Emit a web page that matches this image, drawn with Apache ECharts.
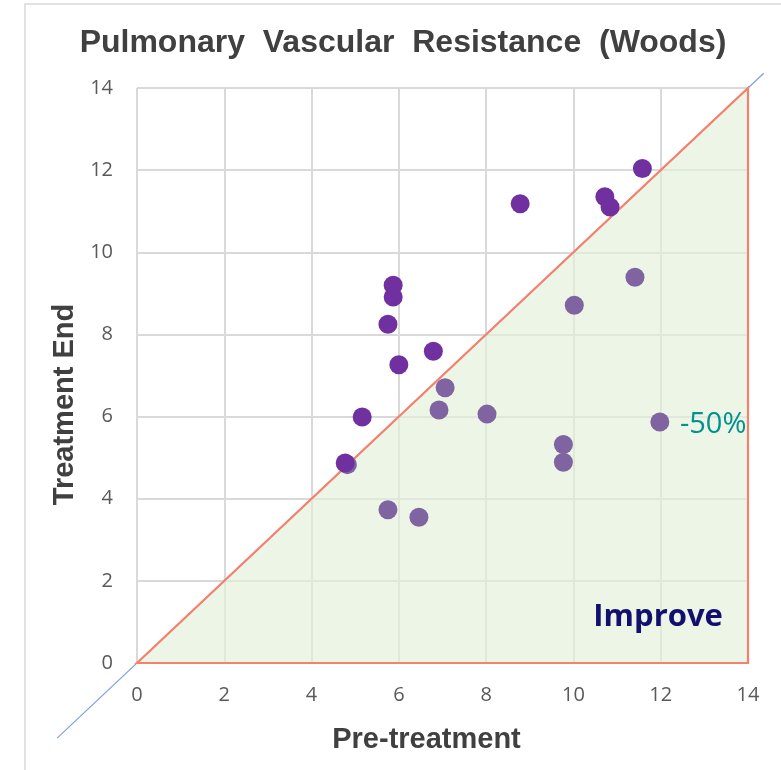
<!DOCTYPE html>
<html>
<head>
<meta charset="utf-8">
<script src="https://cdn.jsdelivr.net/npm/echarts@6/dist/echarts.min.js"></script>
<style>html,body{margin:0;padding:0;background:#fff}#c{width:781px;height:770px}</style>
</head>
<body>
<div id="c"></div>
<script>
var titleText = 'Pulmonary  Vascular  Resistance  (Woods)';
var xName = 'Pre-treatment';
var yName = 'Treatment End';
var axisMin = 0, axisMax = 14, axisStep = 2;

// Points above/on identity line (worsened) - dark purple
var worseX = [4.77, 5.16, 5.75, 5.87, 5.87, 6.00, 6.79, 8.78, 10.72, 10.84, 11.58];
var worseY = [4.87, 5.99, 8.25, 9.20, 8.91, 7.26, 7.59, 11.18, 11.35, 11.10, 12.04];
// Points below identity line (improved) - light purple
var betterX = [4.82, 7.06, 6.92, 8.02, 5.75, 6.46, 11.41, 10.02, 11.98, 9.77, 9.77];
var betterY = [4.83, 6.70, 6.16, 6.06, 3.73, 3.55, 9.39, 8.71, 5.87, 5.32, 4.89];

// Improvement region triangle
var triX = [0, 14, 14];
var triY = [0, 14, 0];
// Identity line extended
var idX = [-1.83, 14.36];
var idY = [-1.83, 14.36];

var annoPct = {text: '-50%', x: 12.44, y: 5.8};
var annoImp = {text: 'Improve', x: 11.94, y: 1.12};

function zip(a, b) { return a.map(function (v, i) { return [v, b[i]]; }); }

var chart = echarts.init(document.getElementById('c'), null, {renderer: 'canvas'});
var tickFont = {color: '#595959', fontSize: 20, fontFamily: 'Open Sans'};
var gridLine = {show: true, lineStyle: {color: '#d9d9d9', width: 2}};

chart.setOption({
  animation: false,
  backgroundColor: '#ffffff',
  title: {
    text: titleText, left: 398, textAlign: 'center', top: 22,
    textStyle: {fontFamily: 'Liberation Sans', fontWeight: 'bold', fontSize: 32, color: '#404040'}
  },
  graphic: [{
    type: 'rect', shape: {x: 25, y: 4, width: 800, height: 800},
    style: {fill: 'none', stroke: '#d9d9d9', lineWidth: 1.5}, silent: true, z: -10
  }],
  grid: {left: 137, right: 33, top: 88, bottom: 107},
  xAxis: {
    type: 'value', min: axisMin, max: axisMax, interval: axisStep,
    name: xName, nameLocation: 'middle', nameGap: 62,
    nameTextStyle: {fontFamily: 'Liberation Sans', fontWeight: 'bold', fontSize: 29, color: '#404040',
      padding: [0, 32, 0, 0]},
    axisLine: {show: false}, axisTick: {show: false},
    axisLabel: Object.assign({margin: 22}, tickFont),
    splitLine: gridLine
  },
  yAxis: {
    type: 'value', min: axisMin, max: axisMax, interval: axisStep,
    name: yName, nameLocation: 'middle', nameGap: 52,
    nameTextStyle: {fontFamily: 'Liberation Sans', fontWeight: 'bold', fontSize: 29, color: '#404040',
      padding: [0, 58, 0, 0]},
    axisLine: {show: false}, axisTick: {show: false},
    axisLabel: Object.assign({margin: 24}, tickFont),
    splitLine: gridLine
  },
  series: [
    {
      type: 'custom', z: 1, silent: true,
      data: [0],
      renderItem: function (params, api) {
        var pts = triX.map(function (v, i) { return api.coord([v, triY[i]]); });
        return {
          type: 'polygon', shape: {points: pts},
          style: {fill: 'rgba(226,240,217,0.65)', stroke: 'none'}
        };
      },
      clip: false
    },
    {
      type: 'custom', z: 2, silent: true, data: [0], clip: false,
      renderItem: function (params, api) {
        var pts = idX.map(function (v, i) { return api.coord([v, idY[i]]); });
        return {
          type: 'polyline', shape: {points: pts},
          style: {fill: 'none', stroke: '#7fa2dc', lineWidth: 1.2}
        };
      }
    },
    {
      type: 'custom', z: 3, silent: true, data: [0], clip: false,
      renderItem: function (params, api) {
        var pts = triX.map(function (v, i) { return api.coord([v, triY[i]]); });
        return {
          type: 'polygon', shape: {points: pts},
          style: {fill: 'none', stroke: '#f7806c', lineWidth: 2.2}
        };
      }
    },
    {
      type: 'scatter', z: 4, symbolSize: 19,
      data: zip(betterX, betterY),
      itemStyle: {color: '#8064a2', opacity: 1}
    },
    {
      type: 'scatter', z: 5, symbolSize: 19,
      data: zip(worseX, worseY),
      itemStyle: {color: '#7030a0', opacity: 1}
    },
    {
      type: 'scatter', z: 6, symbolSize: 0, silent: true,
      itemStyle: {opacity: 1},
      data: [
        {value: [annoPct.x, annoPct.y], label: {show: true, position: 'right', distance: 0, formatter: annoPct.text,
          fontFamily: 'Open Sans', fontSize: 29, color: '#00928e', opacity: 1}},
        {value: [annoImp.x, annoImp.y], label: {show: true, position: 'inside', formatter: annoImp.text,
          fontFamily: 'Open Sans', fontWeight: 'bold', fontSize: 31, color: '#12106e', opacity: 1}}
      ]
    }
  ]
});
</script>
</body>
</html>
